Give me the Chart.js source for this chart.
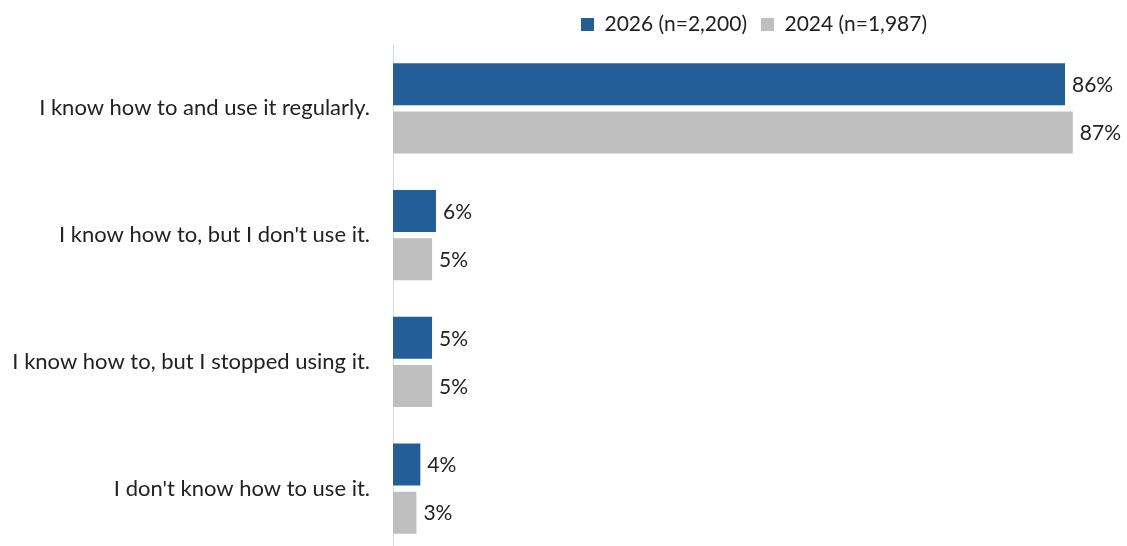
<!DOCTYPE html>
<html lang="en">
<head>
<meta charset="UTF-8">
<title>Usage comparison</title>
<script src="https://cdn.jsdelivr.net/npm/chart.js"></script>
<style>
  html, body { margin: 0; padding: 0; background: #fff; overflow: hidden; }
  canvas { display: block; }
</style>
</head>
<body>
<canvas id="usageChart" width="1127" height="552"></canvas>

<script>
// categories and values
const categories = [
  'I know how to and use it regularly.',
  "I know how to, but I don't use it.",
  'I know how to, but I stopped using it.',
  "I don't know how to use it."
];
const values2026 = [86, 5.5, 5, 3.5];
const values2024 = [87, 5, 5, 3];
const labels2026 = ['86%', '6%', '5%', '4%'];
const labels2024 = ['87%', '5%', '5%', '3%'];
const seriesNames = ['2026 (n=2,200)', '2024 (n=1,987)'];

const FONT = 'Lato, "Open Sans", sans-serif';

// draws the percentage text at the end of each bar
const barLabels = {
  id: 'barLabels',
  afterDatasetsDraw(chart) {
    const ctx = chart.ctx;
    const texts = [labels2026, labels2024];
    ctx.save();
    ctx.font = '21px ' + FONT;
    ctx.fillStyle = '#222';
    ctx.textBaseline = 'middle';
    ctx.textAlign = 'left';
    chart.data.datasets.forEach((ds, i) => {
      chart.getDatasetMeta(i).data.forEach((bar, j) => {
        ctx.fillText(texts[i][j], bar.x + 7, bar.y + 1);
      });
    });
    ctx.restore();
  }
};

const ctx = document.getElementById('usageChart').getContext('2d');
new Chart(ctx, {
  type: 'bar',
  data: {
    labels: categories,
    datasets: [{
      label: seriesNames[0],
      data: values2026,
      backgroundColor: '#235E99'
    }, {
      label: seriesNames[1],
      data: values2024,
      backgroundColor: '#BFBFBF'
    }]
  },
  options: {
    indexAxis: 'y',
    responsive: false,
    animation: false,
    layout: { padding: { top: 0, right: 12, left: 0, bottom: 0 } },
    datasets: {
      bar: { categoryPercentage: 0.76, barPercentage: 0.87 }
    },
    scales: {
      x: {
        display: false,
        min: 0,
        max: 92.4
      },
      y: {
        grid: { display: false },
        border: { display: true, color: '#d9d9d9', width: 1 },
        ticks: {
          color: '#222',
          font: { family: FONT, size: 22 },
          padding: 15
        },
        afterFit(scale) {
          scale.width = 393;
          // no extra room above/below the first and last label
          scale.paddingTop = 0;
          scale.paddingBottom = 0;
        }
      }
    },
    plugins: {
      legend: {
        position: 'top',
        fullSize: false,
        labels: {
          color: '#222',
          font: { family: FONT, size: 21 },
          boxWidth: 13,
          boxHeight: 13,
          padding: 14
        }
      },
      tooltip: { enabled: false }
    }
  },
  plugins: [barLabels]
});
</script>
</body>
</html>
